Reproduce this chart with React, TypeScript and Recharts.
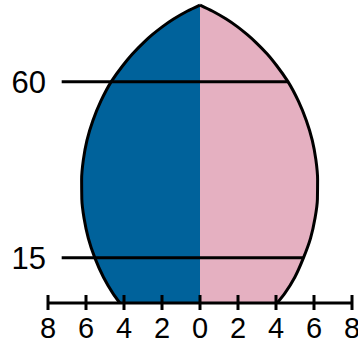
import React from "react";
import { ComposedChart, Area, XAxis, YAxis, ReferenceLine } from "recharts";

// Age (vertical value) and half-widths of each side
const ages = [3.4, 6, 10, 15, 20, 25, 30, 35, 40, 45, 50, 55, 60, 64, 67, 70, 72, 74, 76, 78, 79.6];
const leftValues = [4.22, 4.6, 5.08, 5.54, 5.88, 6.1, 6.22, 6.23, 6.14, 5.95, 5.64, 5.22, 4.67, 4.08, 3.57, 2.97, 2.51, 1.99, 1.39, 0.68, 0];
const rightValues = [4.06, 4.48, 4.99, 5.45, 5.82, 6.05, 6.18, 6.19, 6.1, 5.91, 5.6, 5.18, 4.63, 4.05, 3.55, 2.95, 2.49, 1.98, 1.38, 0.67, 0];

const xTicks = [-8, -6, -4, -2, 0, 2, 4, 6, 8];
const yTicks = [15, 60];
const refAges = [15, 60];
const refStart = -7.28;
const refEnds = [5.45, 4.63];

const data = ages.map((age, i) => ({ age, left: -leftValues[i], right: rightValues[i] }));

const FONT = "'Liberation Sans', Arial, sans-serif";

const XTick = (props: any) => {
  const { x, y, payload } = props;
  return (
    <g>
      <line x1={x} x2={x} y1={y - 8} y2={y + 7} stroke="#000" strokeWidth={3} />
      <text x={x} y={y + 35} textAnchor="middle" fontSize={29} fontFamily={FONT} fill="#000">
        {Math.abs(payload.value)}
      </text>
    </g>
  );
};

const YTick = (props: any) => {
  const { x, y, payload } = props;
  return (
    <text x={x} y={y + 11} textAnchor="end" fontSize={31} fontFamily={FONT} fill="#000">
      {payload.value}
    </text>
  );
};

export default function App() {
  return (
    <div style={{ position: "absolute", left: 0, top: 0, width: 358, height: 350, background: "#fff" }}>
      <ComposedChart
        width={358}
        height={350}
        data={data}
        layout="vertical"
        margin={{ top: 5, right: 6, bottom: 0, left: 0 }}
      >
        <XAxis
          type="number"
          domain={[-8, 8]}
          ticks={xTicks}
          interval={0}
          height={47}
          tickSize={0}
          tickMargin={0}
          tick={<XTick />}
          axisLine={{ stroke: "#000", strokeWidth: 3 }}
          tickLine={false}
        />
        <YAxis
          type="number"
          dataKey="age"
          domain={[3.4, 79.6]}
          ticks={yTicks}
          reversed
          width={48}
          tickSize={0}
          tickMargin={2}
          axisLine={false}
          tickLine={false}
          tick={<YTick />}
        />
        <Area
          type="monotone"
          dataKey="left"
          fill="#00629b"
          fillOpacity={1}
          stroke="#000"
          strokeWidth={3}
          isAnimationActive={false}
        />
        <Area
          type="monotone"
          dataKey="right"
          fill="#e5b0c1"
          fillOpacity={1}
          stroke="#000"
          strokeWidth={3}
          isAnimationActive={false}
        />
        {refAges.map((a, i) => (
          <ReferenceLine
            key={a}
            segment={[
              { x: refStart, y: a },
              { x: refEnds[i], y: a },
            ]}
            stroke="#000"
            strokeWidth={3}
          />
        ))}
      </ComposedChart>
    </div>
  );
}
